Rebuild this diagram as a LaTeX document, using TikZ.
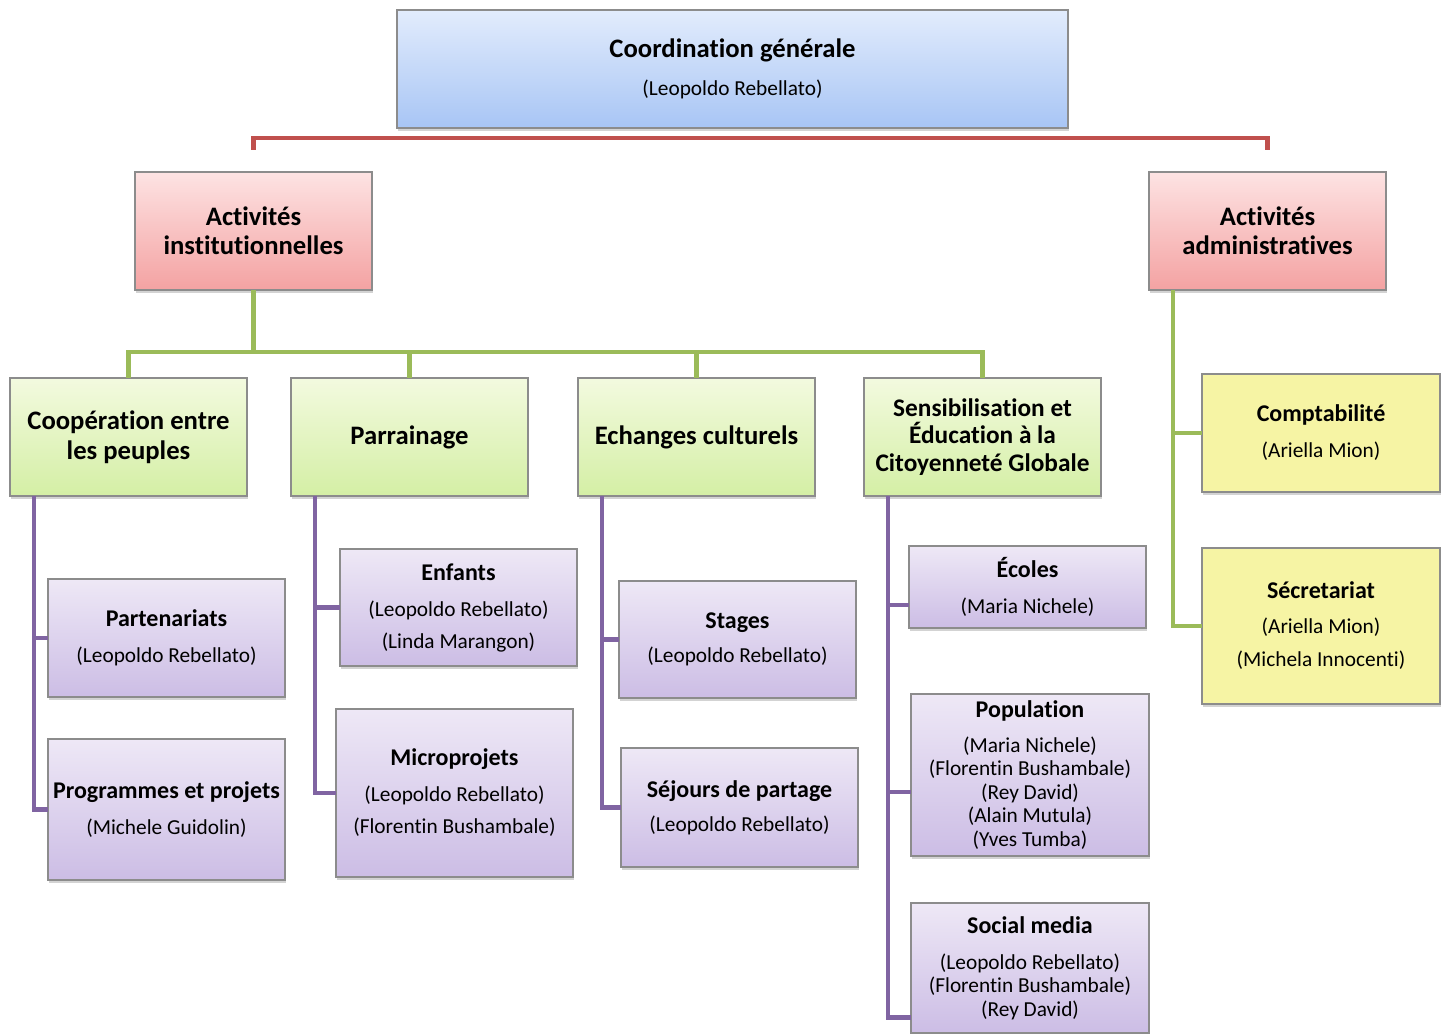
\documentclass[tikz,border=0pt]{standalone}
\usepackage{fontspec}
\setmainfont{Carlito}[Ligatures={NoCommon,NoContextual}, RawFeature=-calt]
\usetikzlibrary{shadows}

\definecolor{blutop}{HTML}{E2ECFC}
\definecolor{blubot}{HTML}{A8C5F5}
\definecolor{redtop}{HTML}{FDE3E3}
\definecolor{redbot}{HTML}{F4A2A2}
\definecolor{grntop}{HTML}{F3FADF}
\definecolor{grnbot}{HTML}{D4EFA5}
\definecolor{liltop}{HTML}{EEE8F6}
\definecolor{lilbot}{HTML}{CCBDE5}
\definecolor{yelfill}{HTML}{F6F4A4}
\definecolor{redln}{HTML}{C0504D}
\definecolor{grnln}{HTML}{9BBB59}
\definecolor{lilln}{HTML}{8064A2}

\newcommand{\boxfont}{\fontsize{16}{0}\selectfont\lineskiplimit=-100pt\relax}
\newcommand{\hd}[1]{{\bfseries\fontsize{20}{0}\selectfont #1}}
\newcommand{\hs}[1]{{\bfseries\fontsize{19}{0}\selectfont #1}}
\newcommand{\hb}[1]{{\bfseries\fontsize{18}{0}\selectfont #1}}
\newcommand{\nm}[1]{{\fontsize{16}{0}\selectfont #1}}

\tikzset{
  box/.style={draw=black!45, line width=0.8pt, inner sep=2pt, outer sep=0pt,
    minimum width=177.75pt, minimum height=88.5pt, align=center, font=\boxfont,
    drop shadow={shadow xshift=1pt, shadow yshift=-2pt, opacity=0.35}},
  headbox/.style={box, top color=blutop, bottom color=blubot},
  redbox/.style={box, top color=redtop, bottom color=redbot},
  greenbox/.style={box, top color=grntop, bottom color=grnbot},
  lilabox/.style={box, top color=liltop, bottom color=lilbot},
  yellowbox/.style={box, fill=yelfill},
  link/.style={line width=3.4pt},
  redlink/.style={link, draw=redln},
  greenlink/.style={link, draw=grnln},
  lilalink/.style={link, draw=lilln}
}

\begin{document}
\begin{tikzpicture}[x=0.75pt, y=-0.75pt]
  \useasboundingbox (0,0) rectangle (1448,1034);

  \node[headbox, minimum width=503.25pt] (coord) at (732.5,69)
    {\hd{Coordination générale}\\[28pt]\nm{(Leopoldo Rebellato)}};

  \node[redbox] (inst)  at (253.5,231) {\hd{Activités}\\[21.75pt]\hd{institutionnelles}};
  \node[redbox] (admin) at (1267.5,231) {\hd{Activités}\\[21.75pt]\hd{administratives}};

  \node[greenbox] (coop) at (128.5,437) {\hd{Coopération entre}\\[22.5pt]\hd{les peuples}};
  \node[greenbox] (parr) at (409.5,437) {\hd{Parrainage}};
  \node[greenbox] (ech)  at (696.5,437) {\hd{Echanges culturels}};
  \node[greenbox] (sens) at (982.5,437)
    {\hs{Sensibilisation et}\\[20.6pt]\hs{Éducation à la}\\[20.6pt]\hs{Citoyenneté Globale}};

  \node[yellowbox, minimum width=178.5pt] (compta) at (1321,433)
    {\hb{Comptabilité}\\[27pt]\nm{(Ariella Mion)}};
  \node[yellowbox, minimum width=178.5pt, minimum height=117pt] (secr) at (1321,626)
    {\hb{Sécretariat}\\[26.25pt]\nm{(Ariella Mion)}\\[24.75pt]\nm{(Michela Innocenti)}};

  \node[lilabox] (part) at (166.5,638) {\hb{Partenariats}\\[27pt]\nm{(Leopoldo Rebellato)}};
  \node[lilabox, minimum height=105.75pt] (prog) at (166.5,809.5)
    {\hb{Programmes et projets}\\[27pt]\nm{(Michele Guidolin)}};

  \node[lilabox, minimum height=87.75pt] (enf) at (458.5,607.5)
    {\hb{Enfants}\\[27pt]\nm{(Leopoldo Rebellato)}\\[24pt]\nm{(Linda Marangon)}};
  \node[lilabox, minimum height=126pt] (micro) at (454.5,793)
    {\hb{Microprojets}\\[27pt]\nm{(Leopoldo Rebellato)}\\[24pt]\nm{(Florentin Bushambale)}};

  \node[lilabox, minimum height=87.75pt] (stag) at (737.5,639.5)
    {\hb{Stages}\\[25.5pt]\nm{(Leopoldo Rebellato)}};
  \node[lilabox, minimum height=89.25pt] (sej) at (739.5,807.5)
    {\hb{Séjours de partage}\\[25.5pt]\nm{(Leopoldo Rebellato)}};

  \node[lilabox, minimum height=61.5pt] (ecol) at (1027.5,587)
    {\hb{Écoles}\\[27pt]\nm{(Maria Nichele)}};
  \node[lilabox, minimum width=178.5pt, minimum height=121.5pt] (popu) at (1030,775)
    {\hb{Population}\\[26.25pt]\nm{(Maria Nichele)}\\[17.6pt]\nm{(Florentin Bushambale)}\\[17.6pt]\nm{(Rey David)}\\[17.6pt]\nm{(Alain Mutula)}\\[17.6pt]\nm{(Yves Tumba)}};
  \node[lilabox, minimum width=178.5pt, minimum height=97.5pt] (soci) at (1030,968)
    {\hb{Social media}\\[27pt]\nm{(Leopoldo Rebellato)}\\[17.6pt]\nm{(Florentin Bushambale)}\\[17.6pt]\nm{(Rey David)}};

  \draw[redlink] ([yshift=16.5pt]inst.north) -- ([yshift=25.5pt]inst.north) -| ([yshift=16.5pt]admin.north);

  \coordinate (gbar) at ([yshift=19.5pt]coop.north);
  \draw[greenlink] (inst.south) -- (inst.south |- gbar);
  \draw[greenlink] (coop.north) -- (gbar) -| (sens.north);
  \draw[greenlink] (parr.north) -- (parr.north |- gbar);
  \draw[greenlink] (ech.north) -- (ech.north |- gbar);
  \draw[greenlink] ([xshift=18pt]admin.south west) |- (compta.west);
  \draw[greenlink] ([xshift=18pt]admin.south west) |- (secr.west);

  \draw[lilalink] ([xshift=18pt]coop.south west) |- (part.west);
  \draw[lilalink] ([xshift=18pt]coop.south west) |- (prog.west);
  \draw[lilalink] ([xshift=18pt]parr.south west) |- (enf.west);
  \draw[lilalink] ([xshift=18pt]parr.south west) |- (micro.west);
  \draw[lilalink] ([xshift=18pt]ech.south west) |- (stag.west);
  \draw[lilalink] ([xshift=18pt]ech.south west) |- (sej.west);
  \draw[lilalink] ([xshift=18pt]sens.south west) |- ([yshift=-13.5pt]ecol.west);
  \draw[lilalink] ([xshift=18pt]sens.south west) |- ([yshift=-12.75pt]popu.west);
  \draw[lilalink] ([xshift=18pt]sens.south west) |- ([yshift=-37pt]soci.west);
\end{tikzpicture}
\end{document}
